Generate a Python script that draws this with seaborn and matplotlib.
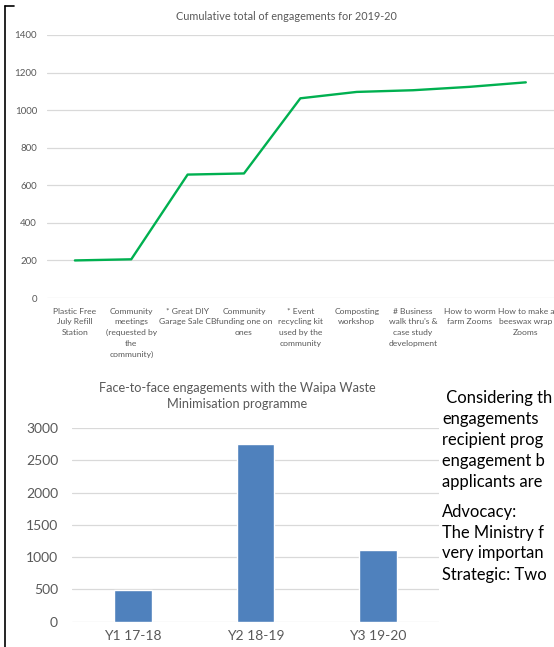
import matplotlib
matplotlib.use("Agg")
import matplotlib.pyplot as plt
import seaborn as sns
import pandas as pd
from matplotlib.lines import Line2D

# ---- data ----
activities = [
    "Plastic Free\nJuly Refill\nStation",
    "Community\nmeetings\n(requested by\nthe\ncommunity)",
    "* Great DIY\nGarage Sale CB",
    "Community\nfunding one on\nones",
    "* Event\nrecycling kit\nused by the\ncommunity",
    "Composting\nworkshop",
    "# Business\nwalk thru's &\ncase study\ndevelopment",
    "How to worm\nfarm Zooms",
    "How to make a\nbeeswax wrap\nZooms",
]
cumulative = [200, 206, 657, 663, 1063, 1097, 1106, 1124, 1148]
line_ticks = [0, 200, 400, 600, 800, 1000, 1200, 1400]

years = ["Y1 17-18", "Y2 18-19", "Y3 19-20"]
engagements = [490, 2754, 1109]
bar_ticks = [0, 500, 1000, 1500, 2000, 2500, 3000]

line_title = "Cumulative total of engagements for 2019-20"
bar_title = ["Face-to-face engagements with the Waipa Waste", "Minimisation programme"]
side_text = [" Considering th", "engagements", "recipient prog", "engagement b",
             "applicants are", "Advocacy:", "The Ministry f", "very importan",
             "Strategic: Two"]

# ---- style ----
sns.set_theme(style="white")
plt.rcParams['font.family'] = ['Lato', 'DejaVu Sans']

W, H = 554, 647
fig = plt.figure(figsize=(W / 100, H / 100), dpi=100)
fig.patch.set_facecolor("white")


def box(l, t, r, b):
    return [l / W, 1 - b / H, (r - l) / W, (b - t) / H]


GRID = "#d9d9d9"
TXT = "#595959"

# ---- top line chart ----
ax1 = fig.add_axes(box(46.7, 35, 554, 298))
df1 = pd.DataFrame({"activity": activities, "total": cumulative})
sns.lineplot(data=df1, x="activity", y="total", ax=ax1, color="#00B050",
             lw=1.7, sort=False)
ax1.set_xlim(-0.5, 8.5)
ax1.set_ylim(0, 1400)
ax1.set_yticks(line_ticks)
ax1.set_xticks(range(len(activities)))
ax1.set_xticklabels(activities, linespacing=1.6, va="top", ha="center")
ax1.grid(True, axis="y", color=GRID, lw=0.9)
ax1.set_axisbelow(True)
for s in ax1.spines.values():
    s.set_visible(False)
ax1.set_xlabel("")
ax1.set_ylabel("")
ax1.tick_params(axis="y", length=0, labelsize=7, colors=TXT, pad=7)
ax1.tick_params(axis="x", length=0, labelsize=6.1, colors=TXT, pad=7)
fig.text(286 / W, 1 - 17 / H, line_title, ha="center", va="center",
         fontsize=7.8, color=TXT)

# ---- bottom bar chart ----
ax2 = fig.add_axes(box(72, 428, 439, 621.7))
sns.barplot(x=years, y=engagements, ax=ax2, color="#4F81BD", saturation=1,
            width=0.31)
ax2.set_ylim(0, 3000)
ax2.set_yticks(bar_ticks)
ax2.grid(True, axis="y", color=GRID, lw=0.9)
ax2.set_axisbelow(True)
for s in ax2.spines.values():
    s.set_visible(False)
ax2.tick_params(axis="y", length=0, labelsize=10, colors=TXT, pad=10)
ax2.tick_params(axis="x", length=0, labelsize=10, colors=TXT, pad=6)
fig.text(237 / W, 1 - 388 / H, bar_title[0], ha="center", va="center",
         fontsize=9.2, color=TXT)
fig.text(237 / W, 1 - 404 / H, bar_title[1], ha="center", va="center",
         fontsize=9.2, color=TXT)

# ---- side text ----
ys = [398, 419, 440, 461, 482, 512, 533, 553, 575]
for s, y in zip(side_text, ys):
    fig.text(442 / W, 1 - y / H, s, ha="left", va="center", fontsize=11.9,
             color="black")

# ---- left border ----
fig.add_artist(Line2D([4.5 / W, 4.5 / W], [1 - 6 / H, 0], color="black", lw=1.2))
fig.add_artist(Line2D([4.5 / W, 14 / W], [1 - 6 / H, 1 - 6 / H], color="black", lw=1.2))

fig.savefig("out.png", dpi=100, facecolor="white")
